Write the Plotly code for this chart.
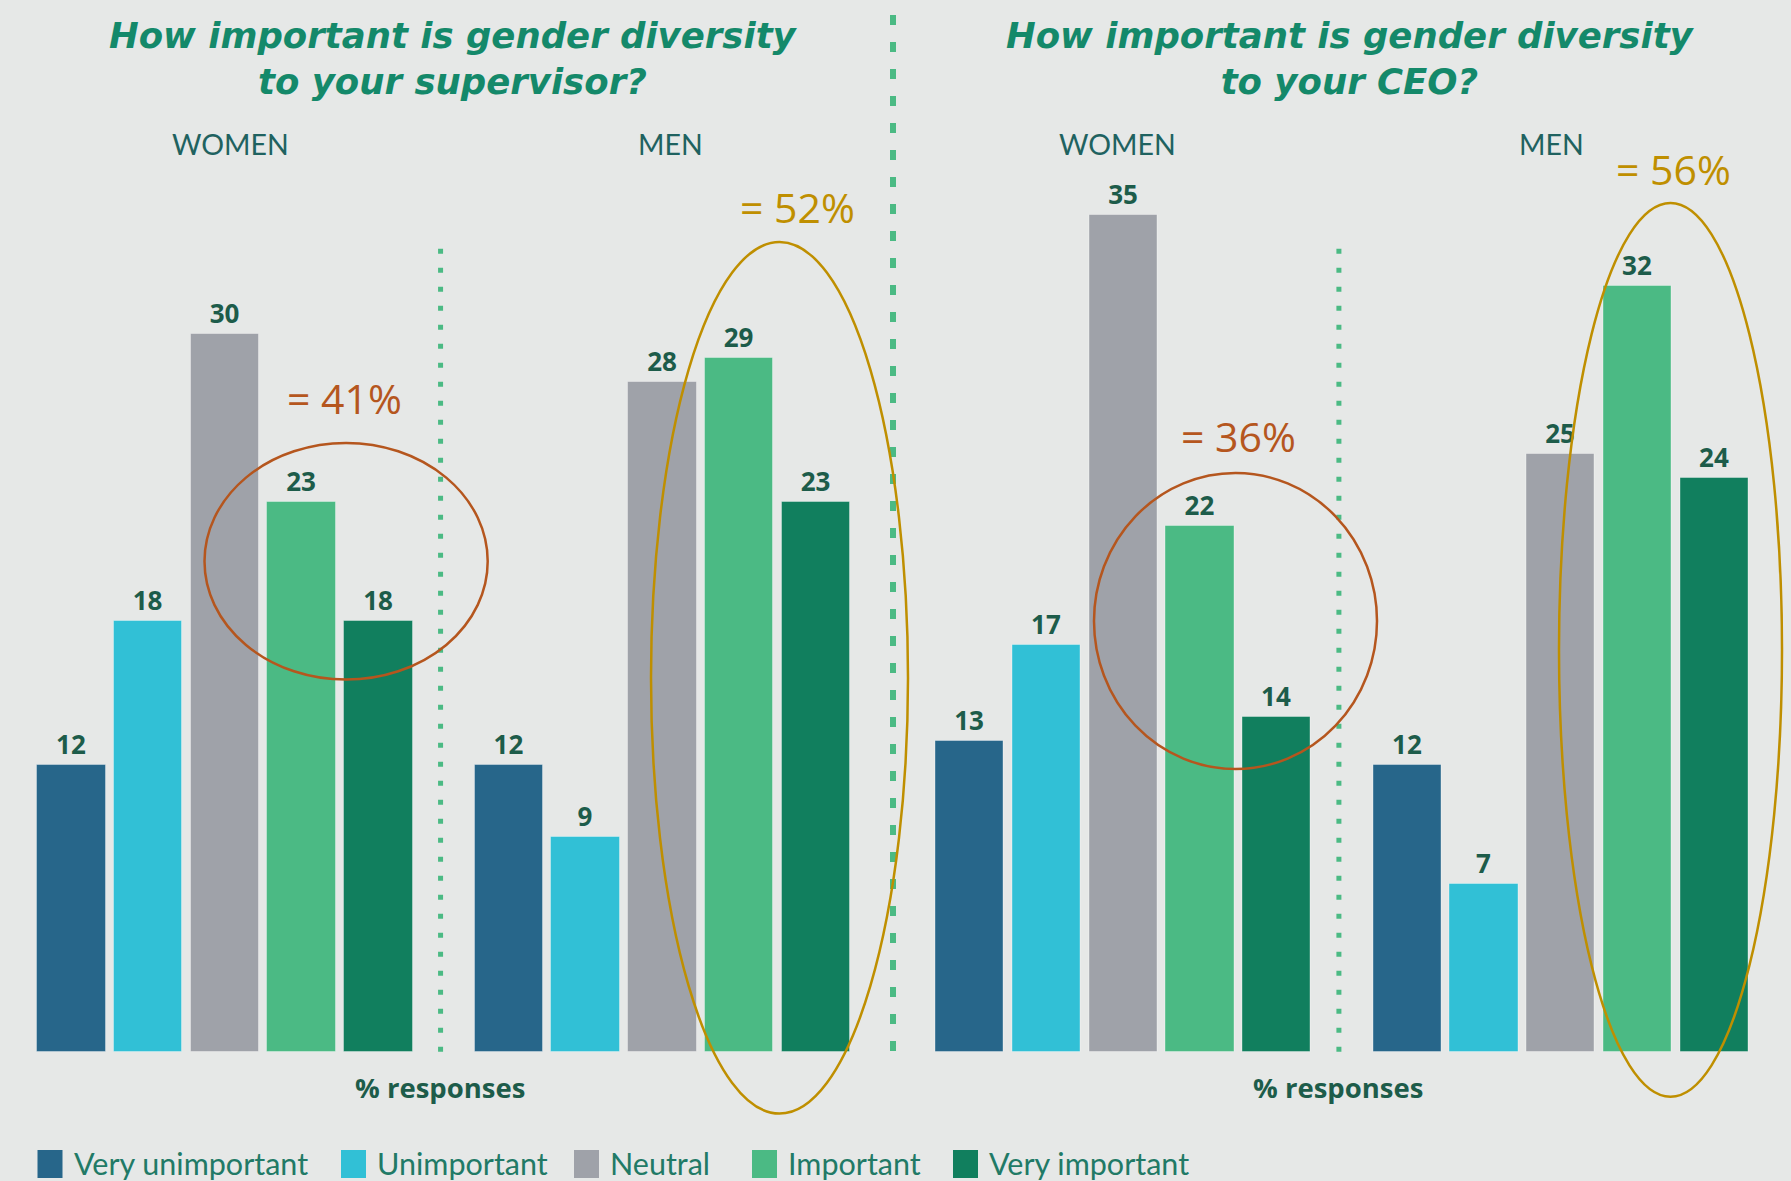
import plotly.graph_objects as go

# data
categories = ["Very unimportant", "Unimportant", "Neutral", "Important", "Very important"]
supervisor_women = [12, 18, 30, 23, 18]
supervisor_men = [12, 9, 28, 29, 23]
ceo_women = [13, 17, 35, 22, 14]
ceo_men = [12, 7, 25, 32, 24]
panel_titles = ["<i><b>How important is gender diversity<br>to your supervisor?</b></i>",
                "<i><b>How important is gender diversity<br>to your CEO?</b></i>"]
group_names = ["WOMEN", "MEN"]

colors = ["#27668a", "#31c0d6", "#9fa2a9", "#4bba84", "#117f5e"]
W, H = 1791, 1181
BG = "#e6e8e7"
LABEL = "#1d5c4a"
men_offset = 5.7


def px(x):
    return x / W


def py(y):
    return 1 - y / H


fig = go.Figure()

panels = [("x", "y", supervisor_women, supervisor_men),
          ("x2", "y2", ceo_women, ceo_men)]
for xa, ya, women, men in panels:
    for offset, vals in [(0, women), (men_offset, men)]:
        fig.add_trace(go.Bar(
            x=[offset + i for i in range(len(categories))],
            y=vals,
            width=0.89,
            marker=dict(color=colors, line=dict(color="rgba(255,255,255,0.35)", width=1)),
            text=vals,
            texttemplate="<b>%{text}</b>",
            textposition="outside",
            textfont=dict(family="Open Sans", size=26, color=LABEL),
            cliponaxis=False,
            hoverinfo="skip",
            xaxis=xa, yaxis=ya,
            showlegend=False,
        ))

yrange = [-5.4, 43.97]
fig.update_layout(
    width=W, height=H,
    margin=dict(t=0, l=0, r=0, b=0),
    paper_bgcolor=BG, plot_bgcolor=BG,
    showlegend=False,
    bargap=0,
    xaxis=dict(domain=[0, 0.5], range=[-0.93, 10.737], visible=False, fixedrange=True),
    xaxis2=dict(domain=[0.5, 1], range=[-0.967, 10.70], visible=False, fixedrange=True),
    yaxis=dict(domain=[0, 1], range=yrange, visible=False, fixedrange=True),
    yaxis2=dict(domain=[0, 1], range=yrange, visible=False, fixedrange=True, anchor="x2"),
)

# panel titles, group headers, axis captions
title_x = [453, 1350]
header_x = [(230, 670), (1117, 1551)]
for k, (xa, ya) in enumerate([("x", "y"), ("x2", "y2")]):
    fig.add_annotation(text=panel_titles[k], xref="paper", yref="paper",
                       x=px(title_x[k]), y=py(59), xanchor="center", yanchor="middle",
                       showarrow=False,
                       font=dict(family="DejaVu Sans", size=35.5, color="#14896a"))
    for hx, name in zip(header_x[k], group_names):
        fig.add_annotation(text=name, xref="paper", yref="paper", x=px(hx), y=py(144),
                           showarrow=False, xanchor="center", yanchor="middle",
                           font=dict(family="Lato", size=28.5, color="#1f6260"))
    fig.add_annotation(text="<b>% responses</b>", xref=xa, yref=ya, x=4.8, y=-1.5,
                       xanchor="center", yanchor="middle",
                       showarrow=False, font=dict(family="Open Sans", size=27.5, color=LABEL))
    # dotted separator between women and men
    fig.add_shape(type="line", xref=xa, yref=ya, x0=4.81, x1=4.81, y0=0, y1=33.6,
                  line=dict(color="#4bba84", width=5, dash="5px,14px"))

# central divider
fig.add_shape(type="line", xref="paper", yref="paper", x0=px(893), x1=px(893),
              y0=py(1051), y1=py(8), line=dict(color="#4bba84", width=6, dash="10px,17px"))

# highlight ellipses and share of (very) important
brown, gold = "#b5561e", "#bf8f00"
highlights = [
    (supervisor_women, brown, (204.5, 443, 487.7, 679.6), (344, 397.5)),
    (supervisor_men, gold, (651, 242, 908, 1113.6), (797, 206.7)),
    (ceo_women, brown, (1094, 473, 1377, 769), (1238, 436)),
    (ceo_men, gold, (1559, 203, 1782, 1096.7), (1673, 169)),
]
for vals, col, (x0, y0, x1, y1), (tx, ty) in highlights:
    fig.add_shape(type="circle", xref="paper", yref="paper",
                  x0=px(x0), x1=px(x1), y0=py(y1), y1=py(y0),
                  line=dict(color=col, width=2.5))
    fig.add_annotation(text=f"= {vals[3] + vals[4]}%", xref="paper", yref="paper",
                       x=px(tx), y=py(ty), xanchor="center", yanchor="middle",
                       showarrow=False,
                       font=dict(family="Open Sans", size=41, color=col))

# legend drawn by hand
legend_x = [37.5, 341, 574, 752, 953]
for name, col, lx in zip(categories, colors, legend_x):
    fig.add_shape(type="rect", xref="paper", yref="paper",
                  x0=px(lx), x1=px(lx + 25), y0=py(1178), y1=py(1150),
                  fillcolor=col, line=dict(width=0))
    fig.add_annotation(text=name, xref="paper", yref="paper", x=px(lx + 34), y=py(1163),
                       xanchor="left", yanchor="middle", showarrow=False,
                       font=dict(family="Lato", size=30.5, color="#217a66"))

fig.write_html("out.html", config={"displayModeBar": False},
               post_script="document.body.style.margin='0';")
